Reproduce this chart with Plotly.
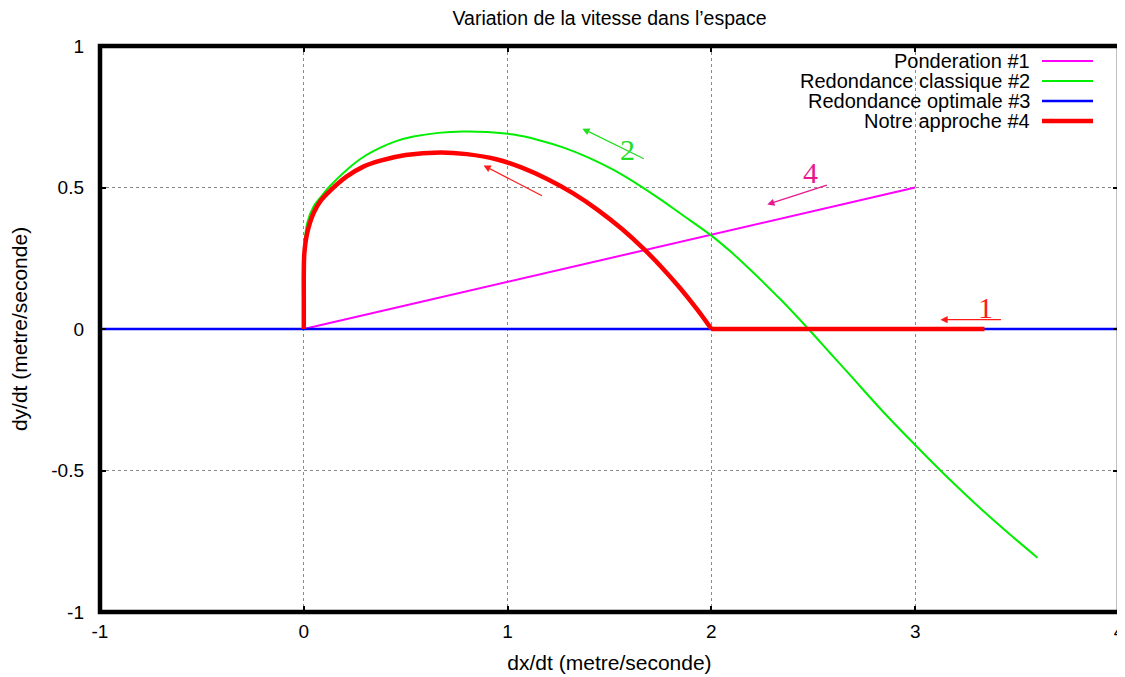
import plotly.graph_objects as go

# ---------------- data ----------------
series_names = ["Ponderation #1", "Redondance classique #2",
                "Redondance optimale #3", "Notre approche #4"]

ponderation_x = [0, 3]
ponderation_y = [0, 0.5]

classique_x = [0, 0.0, 0.003, 0.017, 0.048, 0.085, 0.131, 0.213, 0.29, 0.376, 0.45, 0.538,
               0.66, 0.784, 0.9, 1.03, 1.15, 1.275, 1.40, 1.52, 1.652, 1.75, 1.848, 2.0,
               2.1, 2.2, 2.34, 2.476, 2.58, 2.683, 2.846, 3.0, 3.124, 3.2, 3.337, 3.468, 3.6]
classique_y = [0, 0.15, 0.30, 0.375, 0.433, 0.468, 0.507, 0.564, 0.607, 0.641, 0.663, 0.680,
               0.693, 0.698, 0.696, 0.687, 0.668, 0.641, 0.605, 0.562, 0.505, 0.458, 0.408, 0.33,
               0.27, 0.203, 0.104, 0.0, -0.083, -0.165, -0.295, -0.41, -0.50, -0.553, -0.645, -0.728, -0.808]

optimale_x = [-1, 4]
optimale_y = [0, 0]

approche_x = [0, 0.0, 0.0, 0.003, 0.017, 0.048, 0.085, 0.131, 0.213, 0.29, 0.376, 0.5,
              0.671, 0.8, 0.949, 1.07, 1.194, 1.32, 1.44, 1.56, 1.668, 1.76, 1.848, 1.93,
              2.0, 3.34]
approche_y = [0, 0.1, 0.2, 0.27, 0.34, 0.41, 0.455, 0.49, 0.54, 0.573, 0.595, 0.615,
              0.624, 0.618, 0.599, 0.57, 0.53, 0.48, 0.422, 0.354, 0.283, 0.215, 0.143, 0.069,
              0.0, 0.0]
approche_corner = 2.0   # x where the curve meets the flat part

x_tickvals = [-1, 0, 1, 2, 3, 4]
x_ticktext = ["-1", "0", "1", "2", "3", "4"]
y_tickvals = [-1, -0.5, 0, 0.5, 1]
y_ticktext = ["-1", "-0.5", "0", "0.5", "1"]

# curve labels (text, colour) with arrow (head -> tail) and label position, in data units
curve_labels = [
    {"text": "2", "color": "#22dd22", "head": (1.367, 0.708), "tail": (1.676, 0.599), "pos": (1.587, 0.634)},
    {"text": "4", "color": "#e8178f", "head": (2.274, 0.44), "tail": (2.574, 0.51), "pos": (2.486, 0.553)},
    {"text": "1", "color": "#ff1a1a", "head": (3.124, 0.033), "tail": (3.428, 0.033), "pos": (3.345, 0.075)},
    {"text": "", "color": "#ff1a1a", "head": (0.882, 0.578), "tail": (1.176, 0.468), "pos": None},
]

# ---------------- styles ----------------
colors = ["#ff00ff", "#00ee00", "#0000ff", "#ff0000"]
widths = [2, 2, 2.5, 4.5]
shapes_kind = ["linear", "spline", "linear", "spline"]
FONT = "Liberation Sans, Arial, Helvetica, sans-serif"
SERIF = "Liberation Serif, DejaVu Serif, serif"

fig = go.Figure()
xs = [ponderation_x, classique_x, optimale_x, approche_x]
ys = [ponderation_y, classique_y, optimale_y, approche_y]
for name, x, y, c, w, k in zip(series_names, xs, ys, colors, widths, shapes_kind):
    if name == series_names[3]:
        k_idx = x.index(approche_corner)
        fig.add_trace(go.Scatter(x=x[:k_idx + 1], y=y[:k_idx + 1], mode="lines", name=name,
                                 line=dict(color=c, width=w, shape="spline", smoothing=1.0),
                                 showlegend=False, legendgroup=name))
        fig.add_trace(go.Scatter(x=x[k_idx:], y=y[k_idx:], mode="lines", name=name,
                                 line=dict(color=c, width=w), showlegend=False, legendgroup=name))
    else:
        line = dict(color=c, width=w, shape=k)
        if k == "spline":
            line["smoothing"] = 1.0
        fig.add_trace(go.Scatter(x=x, y=y, mode="lines", name=name, line=line, showlegend=False))

# the page body adds an 8px offset; the figure is sized so the plot lands where intended
OFF = 8
W, H = 1125 - OFF, 677 - OFF
ml, mr, mt, mb = 100 - OFF, 6, 46 - OFF, 65
pw, ph = W - ml - mr, H - mt - mb

def px2paper(px, py):
    # px, py are page pixels
    return (px - OFF - ml) / pw, (H - mb - (py - OFF)) / ph

annotations = []
shapes = []

# custom gnuplot-like legend (text right, sample line on the right)
for i, (name, c, w) in enumerate(zip(series_names, colors, widths)):
    row_py = 61 + 20 * i
    tx, ty = px2paper(1032, row_py)
    annotations.append(dict(x=tx, y=ty, xref="paper", yref="paper", text=name,
                            showarrow=False, xanchor="right", yanchor="middle",
                            font=dict(family=FONT, size=20, color="black")))
    x0, y0 = px2paper(1042, row_py)
    x1, _ = px2paper(1093, row_py)
    shapes.append(dict(type="line", xref="paper", yref="paper", x0=x0, x1=x1, y0=y0, y1=y0,
                       line=dict(color=c, width=w)))

for lab in curve_labels:
    annotations.append(dict(x=lab["head"][0], y=lab["head"][1], ax=lab["tail"][0], ay=lab["tail"][1],
                            xref="x", yref="y", axref="x", ayref="y", text="", showarrow=True,
                            arrowhead=2, arrowsize=1.1, arrowwidth=1.3, arrowcolor=lab["color"]))
    if lab["pos"] is not None:
        annotations.append(dict(x=lab["pos"][0], y=lab["pos"][1], xref="x", yref="y",
                                text=lab["text"], showarrow=False,
                                font=dict(family=SERIF, size=30, color=lab["color"])))

# frame
shapes.append(dict(type="rect", xref="paper", yref="paper", x0=0, x1=1, y0=0, y1=1,
                   line=dict(color="black", width=4.5), layer="above"))

axis_common = dict(showgrid=True, gridcolor="#8a8a8a", griddash="dot", gridwidth=1,
                   zeroline=False, showline=False, ticks="inside", ticklen=6, tickwidth=2,
                   tickcolor="black", mirror="ticks", automargin=False,
                   tickfont=dict(family=FONT, size=19, color="black"))

fig.update_layout(
    width=W, height=H,
    margin=dict(l=ml, r=mr, t=mt, b=mb, autoexpand=False),
    plot_bgcolor="white", paper_bgcolor="white",
    title=dict(text="Variation de la vitesse dans l\u2019espace", x=0.5, xref="paper",
               xanchor="center", y=1 - (18 - OFF) / H, yref="container", yanchor="middle",
               font=dict(family=FONT, size=19.5, color="black")),
    xaxis=dict(range=[-1, 4], tickvals=x_tickvals, ticktext=x_ticktext,
               title=dict(text="dx/dt (metre/seconde)", standoff=14,
                          font=dict(family=FONT, size=21, color="black")),
               ticklabelstandoff=6, **axis_common),
    yaxis=dict(range=[-1, 1], tickvals=y_tickvals, ticktext=y_ticktext,
               title=dict(text="dy/dt (metre/seconde)", standoff=26,
                          font=dict(family=FONT, size=21, color="black")),
               ticklabelstandoff=15, **axis_common),
    annotations=annotations,
    shapes=shapes,
)

fig.write_html("out.html")
